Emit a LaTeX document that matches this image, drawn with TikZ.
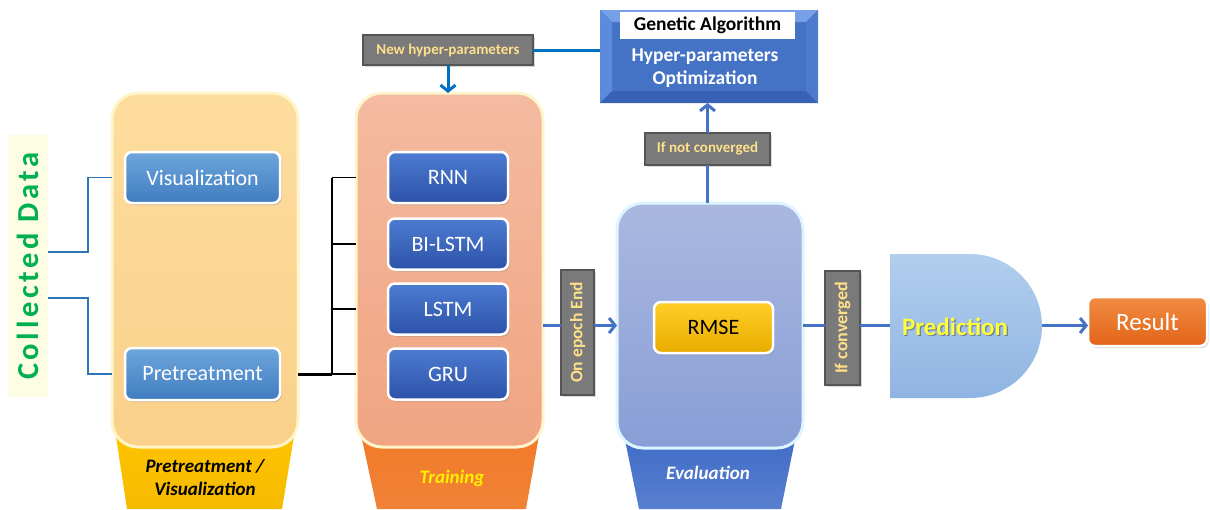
\documentclass[tikz,border=0pt]{standalone}
\usepackage{fontspec}
\setmainfont{Carlito}
\newfontfamily\cdfont[LetterSpace=12]{Carlito}
\usetikzlibrary{arrows.meta,shadows}
\definecolor{cdgreen}{HTML}{00B050}
\definecolor{cdbg}{HTML}{FDFDE4}
\definecolor{bluel}{HTML}{4472C4}
\definecolor{bluee}{HTML}{0070C0}
\definecolor{thinb}{HTML}{2E75B6}
\definecolor{labfill}{HTML}{7A7A7A}
\definecolor{labdraw}{HTML}{555555}
\definecolor{labtext}{HTML}{FFE08A}
\begin{document}
\begin{tikzpicture}[x=1pt,y=-1pt,
  every node/.style={inner sep=0pt, outer sep=0pt},
  fs/.style={font=\fontsize{#1}{#1}\selectfont},
  bigbox/.style={rounded corners=26pt, line width=3pt},
  btn/.style={rounded corners=7pt, draw=white, line width=2.5pt, text=white,
    drop shadow={shadow xshift=1.5pt, shadow yshift=-2pt, opacity=0.35}},
  glabel/.style={fill=labfill, draw=labdraw, line width=2pt, text=labtext,
    font=\bfseries\fontsize{15}{15}\selectfont,
    drop shadow={shadow xshift=1.5pt, shadow yshift=-1.5pt, opacity=0.3}},
  bline/.style={draw=bluel, line width=3pt},
  hline/.style={draw=bluee, line width=3pt},
  kline/.style={draw=black, line width=1.6pt},
  tip/.style={-{Straight Barb[length=6pt,width=15pt,line width=3pt]}}
]
\useasboundingbox (0,0) rectangle (1210,509);

% ---------- trapezoid tabs (behind the big boxes)
\shade[top color={rgb,255:red,255;green,196;blue,0}, bottom color={rgb,255:red,246;green,186;blue,0}]
  (115,430) -- (295,430) -- (282,509) -- (127,509) -- cycle;
\shade[top color={rgb,255:red,242;green,122;blue,40}, bottom color={rgb,255:red,240;green,130;blue,55}]
  (360,430) -- (540,430) -- (526,509) -- (377,509) -- cycle;
\shade[top color={rgb,255:red,62;green,106;blue,196}, bottom color={rgb,255:red,88;green,128;blue,208}]
  (623,430) -- (797,430) -- (781,509) -- (639,509) -- cycle;

% ---------- big boxes
\node[bigbox, draw={rgb,255:red,255;green,245;blue,200},
  top color={rgb,255:red,253;green,221;blue,158}, bottom color={rgb,255:red,250;green,208;blue,138},
  minimum width=186pt, minimum height=354pt] (pre) at (205,270) {};
\node[bigbox, draw={rgb,255:red,255;green,245;blue,205},
  top color={rgb,255:red,244;green,187;blue,160}, bottom color={rgb,255:red,240;green,164;blue,130},
  minimum width=187pt, minimum height=354pt] (train) at (449.5,270) {};
\node[bigbox, draw={rgb,255:red,222;green,244;blue,255},
  top color={rgb,255:red,170;green,184;blue,224}, bottom color={rgb,255:red,136;green,158;blue,214},
  minimum width=186pt, minimum height=245pt] (eval) at (710,325.5) {};

% ---------- tab titles
\node[align=center, font=\bfseries\itshape\fontsize{19}{23}\selectfont] (pretitle) at (205,478) {Pretreatment /\\Visualization};
\node[font=\bfseries\itshape\fontsize{19}{19}\selectfont, text={rgb,255:red,255;green,240;blue,0}] (traintitle) at (452,478) {Training};
\node[font=\bfseries\itshape\fontsize{19}{19}\selectfont, text=white] (evaltitle) at (708,473) {Evaluation};

% ---------- collected data
\node[rotate=90, fill=cdbg, minimum width=262pt, minimum height=40pt, text=cdgreen,
  font=\cdfont\bfseries\fontsize{30.5}{30.5}\selectfont] (cd) at (28,266) {Collected Data};

% ---------- buttons
\node[btn, top color={rgb,255:red,110;green,166;blue,220}, bottom color={rgb,255:red,64;green,124;blue,192},
  minimum width=155pt, minimum height=51pt, fs=22] (vis) at (202.5,177.5) {Visualization};
\node[btn, top color={rgb,255:red,110;green,166;blue,220}, bottom color={rgb,255:red,64;green,124;blue,192},
  minimum width=155pt, minimum height=52pt, fs=22] (pret) at (202.5,374) {Pretreatment};

\tikzset{mbtn/.style={btn, top color={rgb,255:red,76;green,124;blue,210}, bottom color={rgb,255:red,44;green,82;blue,168},
  minimum width=120pt, minimum height=51pt, fs=22}}
\node[mbtn] (rnn) at (448,177.5) {RNN};
\node[mbtn] (bilstm) at (448,244) {BI-LSTM};
\node[mbtn] (lstm) at (448,309) {LSTM};
\node[mbtn] (gru) at (448,374) {GRU};

\node[btn, text=black, top color={rgb,255:red,255;green,206;blue,40}, bottom color={rgb,255:red,232;green,172;blue,0},
  minimum width=119pt, minimum height=51pt, fs=22] (rmse) at (713.5,327.5) {RMSE};
\node[btn, top color={rgb,255:red,240;green,140;blue,66}, bottom color={rgb,255:red,226;green,100;blue,24},
  minimum width=119pt, minimum height=49pt, fs=25] (result) at (1147.5,321.5) {Result};

% ---------- prediction D shape
\node[minimum width=152pt, minimum height=144pt] (predbox) at (966,326) {};
\shade[top color={rgb,255:red,178;green,206;blue,238}, bottom color={rgb,255:red,144;green,180;blue,226}]
  (predbox.north west) -- (970,254) arc[start angle=-90, end angle=90, radius=72] -- (predbox.south west) -- cycle;
\node[font=\bfseries\fontsize{25}{25}\selectfont, text=black, opacity=0.35] (predshadow) at (956.2,328.2) {Prediction};
\node[font=\bfseries\fontsize{25}{25}\selectfont, text={rgb,255:red,255;green,255;blue,60}] (pred) at (955,327) {Prediction};

% ---------- genetic algorithm box
\node[minimum width=218pt, minimum height=93pt] (ga) at (709,56.5) {};
\fill[fill={rgb,255:red,68;green,114;blue,196}] (ga.north west) rectangle (ga.south east);
\fill[fill={rgb,255:red,120;green,160;blue,232}] (600,10) -- (818,10) -- (806,22) -- (612,22) -- cycle;
\fill[fill={rgb,255:red,92;green,138;blue,220}] (600,10) -- (612,22) -- (612,91) -- (600,103) -- cycle;
\fill[fill={rgb,255:red,56;green,98;blue,182}] (600,103) -- (612,91) -- (806,91) -- (818,103) -- cycle;
\fill[fill={rgb,255:red,78;green,122;blue,204}] (818,10) -- (806,22) -- (806,91) -- (818,103) -- cycle;
\node[fill=white, minimum width=175pt, minimum height=27pt, font=\bfseries\fontsize{19.5}{19.5}\selectfont] (gatab) at (707.5,25.5) {Genetic Algorithm};
\node[text=white, align=center, font=\bfseries\fontsize{19.5}{23}\selectfont] (gatext) at (705,68) {Hyper-parameters\\Optimization};

% ---------- gray labels
\node[glabel, minimum width=170pt, minimum height=30pt] (newhp) at (448,50) {New hyper-parameters};
\node[glabel, minimum width=125pt, minimum height=32pt] (notconv) at (707.5,149) {If not converged};
\node[glabel, rotate=90, minimum width=125pt, minimum height=33pt, font=\bfseries\fontsize{17.5}{17.5}\selectfont] (epoch) at (577.5,332.5) {On epoch End};
\node[glabel, rotate=90, minimum width=114pt, minimum height=35pt, font=\bfseries\fontsize{18}{18}\selectfont] (conv) at (842.5,328) {If converged};

% ---------- connectors: collected data
\draw[draw=thinb, line width=1.5pt] (cd.south |- 0,252) -- (88,252) |- (pre.west |- vis);
\draw[draw=thinb, line width=1.5pt] (cd.south |- 0,298) -- (88,298) |- (pre.west |- pret);

% ---------- connectors: pretreatment to models
\coordinate (bus) at (332,0);
\draw[draw=black, line width=3pt] (pre.east |- pret) -- (bus |- pret);
\draw[draw=black, line width=2.6pt] (bus |- rnn) -- (bus |- gru);
\draw[kline] (bus |- rnn) -- (train.west |- rnn);
\draw[kline] (bus |- bilstm) -- (train.west |- bilstm);
\draw[kline] (bus |- lstm) -- (train.west |- lstm);
\draw[kline] (bus |- gru) -- (train.west |- gru);

% ---------- main flow
\draw[bline] (train.east |- eval.east) -- (epoch.north |- eval.east);
\draw[bline, tip] (epoch.south |- eval.east) -- (eval.west);
\draw[bline] (eval.east) -- (conv.north |- eval.east);
\draw[bline] (conv.south |- eval.east) -- (predbox.west |- eval.east);
\draw[bline, tip] (predbox.east |- eval.east) -- (result.west |- eval.east);
\draw[bline] (notconv.south |- eval.north) -- (notconv.south);
\draw[bline, tip] (notconv.north) -- (notconv.north |- ga.south);
\draw[hline] (newhp.east) -- (ga.west |- newhp.east);
\draw[hline, tip] (newhp.south) -- (newhp.south |- train.north);
\end{tikzpicture}
\end{document}
